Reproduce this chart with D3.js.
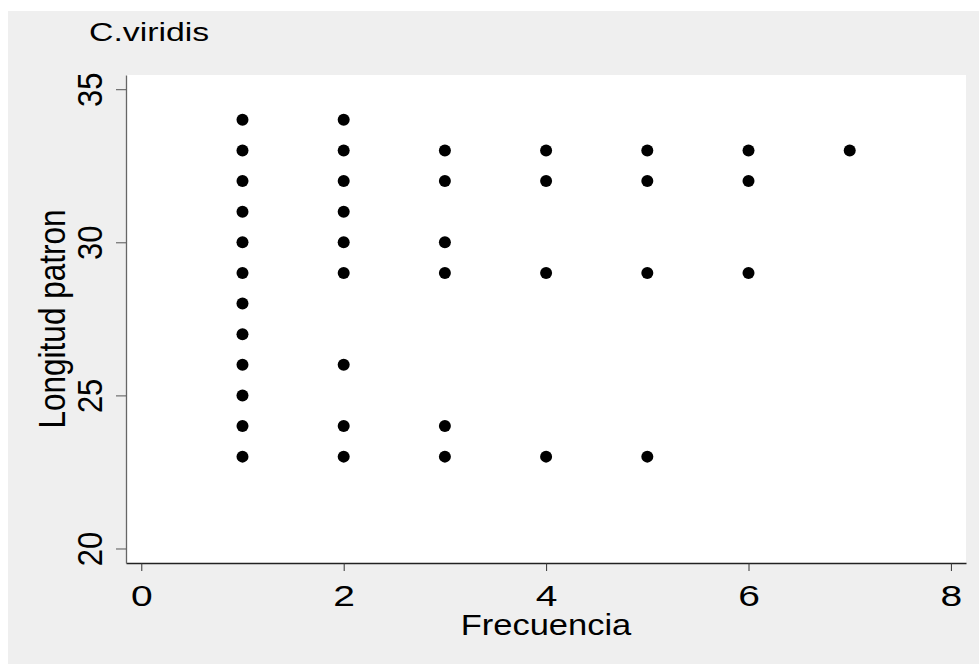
<!DOCTYPE html>
<html>
<head>
<meta charset="utf-8">
<script src="https://cdn.jsdelivr.net/npm/d3@7"></script>
<style>
  html, body { margin: 0; padding: 0; background: #ffffff; }
  svg { display: block; }
  text { font-family: "Liberation Sans", Arial, Helvetica, sans-serif; fill: #000; }
</style>
</head>
<body>
<svg id="chart" width="979" height="664"></svg>
<script>
// ---- data ----
const title = "C.viridis";
const xLabel = "Frecuencia";
const yLabel = "Longitud patron";
const xTicks = [0, 2, 4, 6, 8];
const yTicks = [20, 25, 30, 35];
const frecuencia = [
  1,1,1,1,1,1,1,1,1,1,1,1,
  2,2,2,2,2,2,2,2,2,
  3,3,3,3,3,3,
  4,4,4,4,
  5,5,5,5,
  6,6,6,
  7
];
const longitud = [
  34,33,32,31,30,29,28,27,26,25,24,23,
  34,33,32,31,30,29,26,24,23,
  33,32,30,29,24,23,
  33,32,29,23,
  33,32,29,23,
  33,32,29,
  33
];
const points = frecuencia.map((f, i) => ({ f, l: longitud[i] }));

// ---- layout ----
const svg = d3.select("#chart");
const plot = { left: 126, right: 966, top: 75, bottom: 563 };

svg.append("rect").attr("x", 8).attr("y", 11).attr("width", 979 - 8).attr("height", 664 - 11)
  .attr("fill", "#efefef");
svg.append("rect").attr("x", plot.left).attr("y", plot.top)
  .attr("width", plot.right - plot.left).attr("height", plot.bottom - plot.top)
  .attr("fill", "#ffffff");

const x = d3.scaleLinear().domain([-0.151, 8.149]).range([plot.left, plot.right]);
const y = d3.scaleLinear().domain([19.526, 35.464]).range([plot.bottom, plot.top]);

// x axis
const gx = svg.append("g").attr("transform", `translate(0,${plot.bottom})`)
  .call(d3.axisBottom(x).tickValues(xTicks).tickSize(8).tickSizeOuter(0).tickFormat(d3.format("d")));
gx.select(".domain").attr("stroke", "#222").attr("stroke-width", 1.3);
gx.selectAll(".tick line").attr("stroke", "#333").attr("stroke-width", 1);
gx.selectAll(".tick text")
  .attr("y", 0).attr("dy", 0)
  .attr("transform", "translate(0,43) scale(1.3,1)")
  .attr("font-size", 30)
  .attr("text-anchor", "middle");

// y axis
const gy = svg.append("g").attr("transform", `translate(${plot.left},0)`)
  .call(d3.axisLeft(y).tickValues(yTicks).tickSize(10).tickSizeOuter(0).tickFormat(d3.format("d")));
gy.select(".domain").attr("stroke", "#666").attr("stroke-width", 1.3);
gy.selectAll(".tick line").attr("stroke", "#555").attr("stroke-width", 1);
gy.selectAll(".tick text")
  .attr("x", 0).attr("dy", 0)
  .attr("transform", "translate(-24.5,0) scale(1.15,1) rotate(-90)")
  .attr("font-size", 31)
  .attr("text-anchor", "middle");

// points
svg.append("g").selectAll("circle").data(points).join("circle")
  .attr("cx", d => x(d.f))
  .attr("cy", d => y(d.l))
  .attr("r", 6)
  .attr("fill", "#000");

// titles
svg.append("text")
  .attr("transform", "translate(89,41) scale(1.3,1)")
  .attr("font-size", 26)
  .text(title);

svg.append("text")
  .attr("transform", `translate(${(plot.left + plot.right) / 2},635) scale(1.15,1)`)
  .attr("text-anchor", "middle")
  .attr("font-size", 30)
  .text(xLabel);

svg.append("text")
  .attr("transform", `translate(65,${(plot.top + plot.bottom) / 2}) scale(1.15,1) rotate(-90)`)
  .attr("text-anchor", "middle")
  .attr("font-size", 31.5)
  .text(yLabel);
</script>
</body>
</html>
